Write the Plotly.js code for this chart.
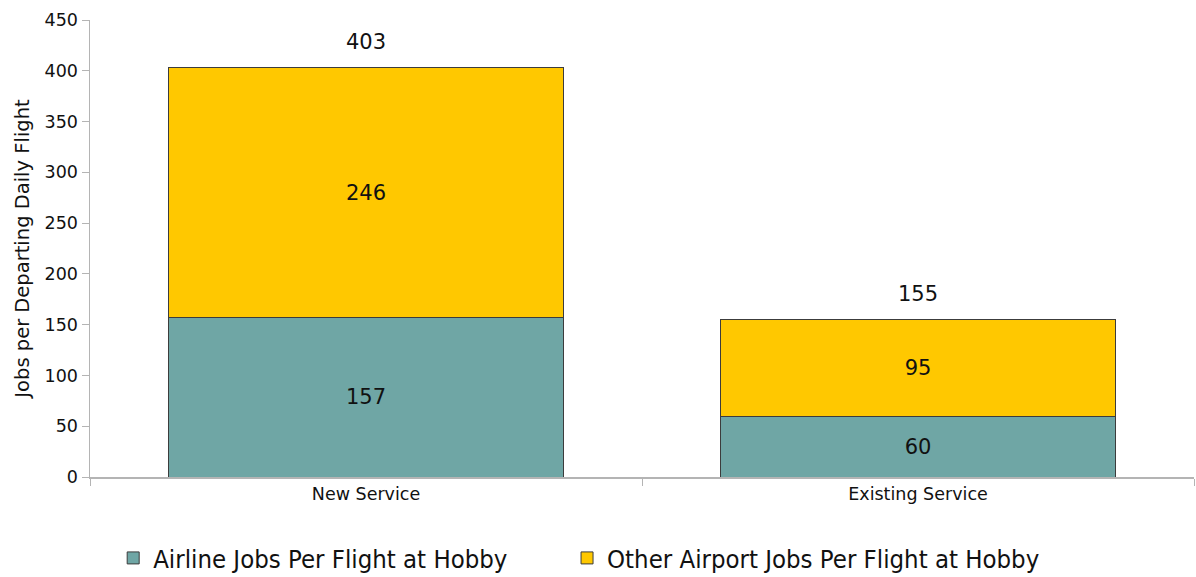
<!DOCTYPE html>
<html><head><meta charset="utf-8">
<script src="https://cdn.plot.ly/plotly-3.0.1.min.js"></script>
<style>html,body{margin:0;padding:0;background:#fff}#chart{width:1196px;height:577px}</style>
</head><body><div id="chart"></div>
<script>
const categories = ["New Service", "Existing Service"];
const airlineJobs = [157, 60];
const otherJobs = [246, 95];
const seriesNames = ["Airline Jobs Per Flight at Hobby", "Other Airport Jobs Per Flight at Hobby"];
const totals = categories.map((c, i) => airlineJobs[i] + otherJobs[i]);

const font = "DejaVu Sans, Tahoma, sans-serif";
const barLine = {color: "#3c3c3c", width: 1};
const data = [
  {type: "bar", x: categories, y: airlineJobs, name: seriesNames[0], legend: "legend",
   marker: {color: "#6fa6a5", line: barLine}, width: 0.714,
   text: airlineJobs.map(String), textposition: "inside", insidetextanchor: "middle",
   textfont: {family: font, size: 21, color: "#111"}, hoverinfo: "y"},
  {type: "bar", x: categories, y: otherJobs, name: seriesNames[1], legend: "legend2",
   marker: {color: "#ffc800", line: barLine}, width: 0.714,
   text: otherJobs.map(String), textposition: "inside", insidetextanchor: "middle",
   textfont: {family: font, size: 21, color: "#111"}, hoverinfo: "y"}
];
const annotations = categories.map((c, i) => ({
  x: c, y: totals[i], xref: "x", yref: "y", text: String(totals[i]),
  showarrow: false, yanchor: "bottom", yshift: 12,
  font: {family: font, size: 21, color: "#111"}
}));
const legendFont = {family: "DejaVu Sans Condensed, sans-serif", size: 25.5, color: "#111"};
const layout = {
  width: 1196, height: 577,
  margin: {l: 90, r: 2, t: 20, b: 100, autoexpand: false},
  barmode: "stack",
  paper_bgcolor: "#fff", plot_bgcolor: "#fff",
  font: {family: font, color: "#111"},
  annotations: annotations,
  xaxis: {type: "category", range: [-0.5, 1.5], showgrid: false, zeroline: false,
    showline: true, linecolor: "#b4b4b4", linewidth: 1.5,
    ticks: "outside", tickson: "boundaries", ticklen: 7, tickcolor: "#b4b4b4",
    tickfont: {family: font, size: 17.5, color: "#111"}},
  yaxis: {range: [0, 450], dtick: 50, showgrid: false, zeroline: false,
    showline: true, linecolor: "#b4b4b4", linewidth: 1.5,
    ticks: "outside", ticklen: 7, tickcolor: "#b4b4b4",
    tickfont: {family: font, size: 17.5, color: "#111"},
    title: {text: "Jobs per Departing Daily Flight", font: {family: font, size: 19.5, color: "#111"}, standoff: 10}},
  legend: {orientation: "h", x: 0.021, xanchor: "left", y: -0.178, yanchor: "middle",
    font: legendFont, itemwidth: 30, bgcolor: "rgba(0,0,0,0)"},
  legend2: {orientation: "h", x: 0.4321, xanchor: "left", y: -0.178, yanchor: "middle",
    font: legendFont, itemwidth: 30, bgcolor: "rgba(0,0,0,0)"},
  showlegend: true
};
Plotly.newPlot("chart", data, layout, {displayModeBar: false, staticPlot: true});
</script></body></html>
